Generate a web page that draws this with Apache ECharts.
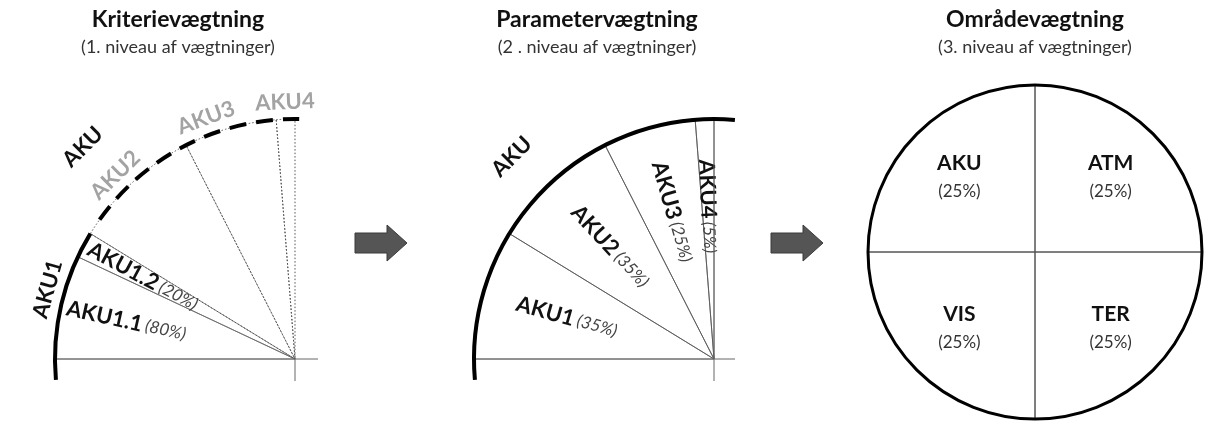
<!DOCTYPE html>
<html><head><meta charset="utf-8">
<script src="https://cdn.jsdelivr.net/npm/echarts@6/dist/echarts.min.js"></script>
<style>html,body{margin:0;padding:0;background:#fff}#c{width:1207px;height:422px}</style>
</head><body><div id="c"></div>
<script>
// ---- data ----
const titles = ['Kriterievægtning', 'Parametervægtning', 'Områdevægtning'];
const subtitles = ['(1. niveau af vægtninger)', '(2 . niveau af vægtninger)', '(3. niveau af vægtninger)'];
const groupName = 'AKU';
const paramCats = ['AKU1', 'AKU2', 'AKU3', 'AKU4'];
const paramWeights = [35, 35, 25, 5];
const subCats = ['AKU1.1', 'AKU1.2'];
const subWeights = [80, 20];
const areaCats = ['AKU', 'ATM', 'TER', 'VIS'];
const areaWeights = [25, 25, 25, 25];

// ---- layout ----
const FONT = 'Lato, "Open Sans", sans-serif';
const L = {cx: 295, cy: 359, r: 240};
const M = {cx: 714, cy: 359, r: 240};
const R = {cx: 1035, cy: 252, r: 167};
const titleX = [178, 597, 1035];
const BLACK = '#111';
const GREY_TXT = '#a3a3a3';
const T = 'rgba(0,0,0,0)';
const LBL = 22, PCT = 17;
// where inside its sector each outer label of the left panel sits (0 = start, 1 = end)
const outerAnchor = [0.5, 0.45, 0.3, 0.5];

const paramTotal = paramWeights.reduce((a, b) => a + b, 0);
const aku1 = paramWeights[0];
const paramAnchorVal = paramWeights.map((w, i) =>
  paramWeights.slice(0, i).reduce((a, b) => a + b, 0) + w * outerAnchor[i]);

const basePie = {
  type: 'pie', silent: true, animation: false, avoidLabelOverlap: false,
  startAngle: 180, endAngle: 90, clockwise: true,
  labelLine: {show: false}, emphasis: {disabled: true}
};
const richPct = {
  b: {fontFamily: FONT, fontWeight: 'bold', fontSize: LBL, color: BLACK},
  p: {fontFamily: FONT, fontStyle: 'italic', fontSize: PCT, color: '#444'}
};

// left sectors: AKU1 split into sub-criteria, rest dotted
const leftData = subCats.map((n, i) => ({
  name: n, value: aku1 * subWeights[i] / 100, pct: subWeights[i],
  itemStyle: {borderType: 'solid', borderColor: '#666', borderWidth: 0.8}
})).concat(paramCats.slice(1).map((n, i) => ({
  name: n, value: paramWeights[i + 1], pct: paramWeights[i + 1],
  itemStyle: {borderType: [1.5, 2], borderColor: '#555', borderWidth: 1},
  label: {show: false}
})));

const series = [
  // left sectors
  Object.assign({}, basePie, {
    center: [L.cx, L.cy], radius: L.r, data: leftData,
    itemStyle: {color: T}, label: {show: false}
  }),
  // left inner labels
  Object.assign({}, basePie, {
    center: [L.cx, L.cy], radius: 340,
    data: leftData.map(d => Object.assign({}, d, {itemStyle: {color: T, borderWidth: 0}})),
    itemStyle: {color: T, borderWidth: 0},
    label: {show: true, position: 'inside', rotate: 'radial', rich: richPct,
      formatter: p => '{b|' + p.name + '} {p|(' + p.data.pct + '%)}'}
  }),
  // left outer labels (polar scatter, text only)
  {
    type: 'scatter', coordinateSystem: 'polar', polarIndex: 0, silent: true,
    symbolSize: 0, itemStyle: {opacity: 1},
    data: paramCats.map((n, i) => ({
      name: n, value: [257, paramAnchorVal[i]],
      label: {color: i === 0 ? BLACK : GREY_TXT, rotate: 90 - paramAnchorVal[i] / paramTotal * 90}
    })),
    label: {show: true, position: 'inside', opacity: 1, fontFamily: FONT, fontWeight: 'bold', fontSize: LBL, formatter: '{b}'}
  },
  // left group label
  Object.assign({}, basePie, {
    center: [L.cx, L.cy], radius: [282, 312],
    data: [{name: groupName, value: paramTotal}],
    itemStyle: {color: T, borderWidth: 0},
    label: {show: true, position: 'inside', rotate: 'tangential', color: BLACK,
      fontFamily: FONT, fontWeight: 'bold', fontSize: LBL, formatter: '{b}'}
  }),
  // middle sectors
  Object.assign({}, basePie, {
    center: [M.cx, M.cy], radius: M.r,
    data: paramCats.map((n, i) => ({name: n, value: paramWeights[i]})),
    itemStyle: {color: T, borderColor: '#555', borderWidth: 0.8},
    label: {show: false}
  }),
  // middle labels
  Object.assign({}, basePie, {
    center: [M.cx, M.cy], radius: 300,
    data: paramCats.map((n, i) => ({name: n, value: paramWeights[i]})),
    itemStyle: {color: T, borderWidth: 0},
    label: {show: true, position: 'inside', rotate: 'radial', rich: richPct,
      formatter: p => '{b|' + p.name + '} {p|(' + p.value + '%)}'}
  }),
  // middle group label
  Object.assign({}, basePie, {
    center: [M.cx, M.cy], radius: [268, 298],
    data: [{name: groupName, value: paramTotal}],
    itemStyle: {color: T, borderWidth: 0},
    label: {show: true, position: 'inside', rotate: 'tangential', color: BLACK,
      fontFamily: FONT, fontWeight: 'bold', fontSize: LBL, formatter: '{b}'}
  }),
  // right sectors
  Object.assign({}, basePie, {
    endAngle: 'auto',
    center: [R.cx, R.cy], radius: R.r,
    data: areaCats.map((n, i) => ({name: n, value: areaWeights[i]})),
    itemStyle: {color: T, borderColor: '#555', borderWidth: 1},
    label: {show: false}
  }),
  // right labels
  Object.assign({}, basePie, {
    endAngle: 'auto',
    center: [R.cx, R.cy], radius: 208,
    data: areaCats.map((n, i) => ({name: n, value: areaWeights[i]})),
    itemStyle: {color: T, borderWidth: 0},
    label: {show: true, position: 'inside', rotate: 0,
      formatter: p => '{b|' + p.name + '}\n{p|(' + p.value + '%)}',
      rich: {
        b: {fontFamily: FONT, fontWeight: 'bold', fontSize: 21, color: BLACK, lineHeight: 30, align: 'center'},
        p: {fontFamily: FONT, fontSize: 17, color: '#333', lineHeight: 26, align: 'center'}
      }}
  })
];

// ---- decorations ----
const D = Math.PI / 180;
const ext = 5 * D;
const aku1Ang = aku1 / paramTotal * Math.PI / 2;
const g = [];
titles.forEach((t, i) => {
  g.push({type: 'text', z: 20, style: {text: t, x: titleX[i], y: 20, align: 'center', verticalAlign: 'middle',
    fontFamily: FONT, fontWeight: 'bold', fontSize: 23, fill: BLACK}});
  g.push({type: 'text', z: 20, style: {text: subtitles[i], x: titleX[i], y: 47, align: 'center', verticalAlign: 'middle',
    fontFamily: FONT, fontSize: 18, fill: '#333'}});
});
// axis crosses
const lineStyle = {stroke: '#666', lineWidth: 1};
g.push({type: 'line', z: 5, shape: {x1: L.cx - L.r, y1: L.cy, x2: L.cx + 23, y2: L.cy}, style: lineStyle});
g.push({type: 'line', z: 5, shape: {x1: L.cx, y1: L.cy, x2: L.cx, y2: L.cy + 22}, style: lineStyle});
g.push({type: 'line', z: 5, shape: {x1: M.cx - M.r, y1: M.cy, x2: M.cx + 21, y2: M.cy}, style: lineStyle});
g.push({type: 'line', z: 5, shape: {x1: M.cx, y1: M.cy - M.r, x2: M.cx, y2: M.cy + 22}, style: lineStyle});
// thick arcs
g.push({type: 'arc', z: 10, shape: {cx: L.cx, cy: L.cy, r: L.r, startAngle: Math.PI - ext, endAngle: Math.PI + aku1Ang, clockwise: true},
  style: {stroke: '#000', lineWidth: 4, fill: null}});
g.push({type: 'arc', z: 10, shape: {cx: L.cx, cy: L.cy, r: L.r, startAngle: Math.PI + aku1Ang + 4 * D, endAngle: 1.5 * Math.PI + 1 * D, clockwise: true},
  style: {stroke: '#000', lineWidth: 4, fill: null, lineDash: [17, 10]}});
g.push({type: 'arc', z: 10, shape: {cx: M.cx, cy: M.cy, r: M.r, startAngle: Math.PI - ext, endAngle: 1.5 * Math.PI + ext, clockwise: true},
  style: {stroke: '#000', lineWidth: 4, fill: null}});
g.push({type: 'circle', z: 10, shape: {cx: R.cx, cy: R.cy, r: R.r}, style: {stroke: '#000', lineWidth: 3, fill: null}});
// arrows
[381, 797].forEach(ax => {
  const x0 = ax - 26, y = 243;
  g.push({type: 'polygon', z: 10, shape: {points: [
    [x0, y - 10], [x0 + 32, y - 10], [x0 + 32, y - 18], [x0 + 52, y], [x0 + 32, y + 18], [x0 + 32, y + 10], [x0, y + 10]
  ]}, style: {fill: '#555', stroke: '#3a3a3a', lineWidth: 1}});
});

const chart = echarts.init(document.getElementById('c'), null, {renderer: 'canvas'});
chart.setOption({
  animation: false,
  polar: {center: [L.cx, L.cy], radius: 300},
  angleAxis: {type: 'value', min: 0, max: paramTotal * 4, startAngle: 180, clockwise: true, show: false},
  radiusAxis: {type: 'value', min: 0, max: 300, show: false},
  series: series,
  graphic: {elements: g}
});
</script>
</body></html>
